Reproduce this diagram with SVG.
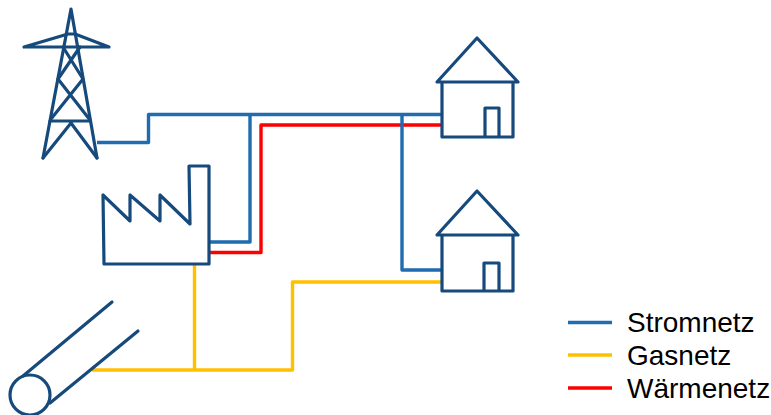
<svg xmlns="http://www.w3.org/2000/svg" width="771" height="415" viewBox="0 0 771 415">
<style>
.i{fill:none;stroke:#174a7c;stroke-width:3.2;stroke-linejoin:round;stroke-linecap:round}
.c{fill:none;stroke-width:3.4;stroke-linejoin:round;stroke-linecap:butt}
.b{stroke:#1f6cb0}.y{stroke:#ffc000}.r{stroke:#ff0000}
text{font-family:"Liberation Sans",Arial,sans-serif;font-size:28px;fill:#000}
</style>
<rect width="771" height="415" fill="#fff"/>
<g id="connectors">
<path class="c b" d="M97 142.500H148.500V114.500H442"/>
<path class="c b" d="M209 242H250V114"/>
<path class="c r" d="M209 252.500H261V125H442"/>
<path class="c b" d="M402 114V270H442"/>
<path class="c y" d="M194.500 264V370"/>
<path class="c y" d="M92 370H292.500V282H442"/>
</g>
<g id="tower" class="i">
<path d="M43 158L71 9L97 158"/>
<path d="M24 47H109M24 47L68 34H75L109 47"/>
<path d="M43 158L71 123L97 158M50 121H90"/>
<path d="M63 47L83 79L51 119M80 47L58 79L90 120"/>
</g>
<g id="factory" class="i">
<path d="M103 195L104 264H209V166H189L190 224L160 195V221L130 195V221L103 195"/>
</g>
<g id="pipe" class="i">
<circle cx="30" cy="395" r="20"/>
<path d="M23 376L112 302M50 403L138 331"/>
</g>
<g id="house1" class="i">
<path d="M437 82L477 38L518 82ZM442 82V137H513V82M485 137V108H499V137"/>
</g>
<g id="house2" class="i">
<path d="M437 235L477 191L518 235ZM442 235V291H513V235M484 291V263H499V291"/>
</g>
<g id="legend">
<path class="c b" d="M568 322.500H612"/>
<path class="c y" d="M568 355H612"/>
<path class="c r" d="M568 388H612"/>
<text x="627" y="332">Stromnetz</text>
<text x="627" y="365">Gasnetz</text>
<text x="627" y="398">Wärmenetz</text>
</g>
</svg>
